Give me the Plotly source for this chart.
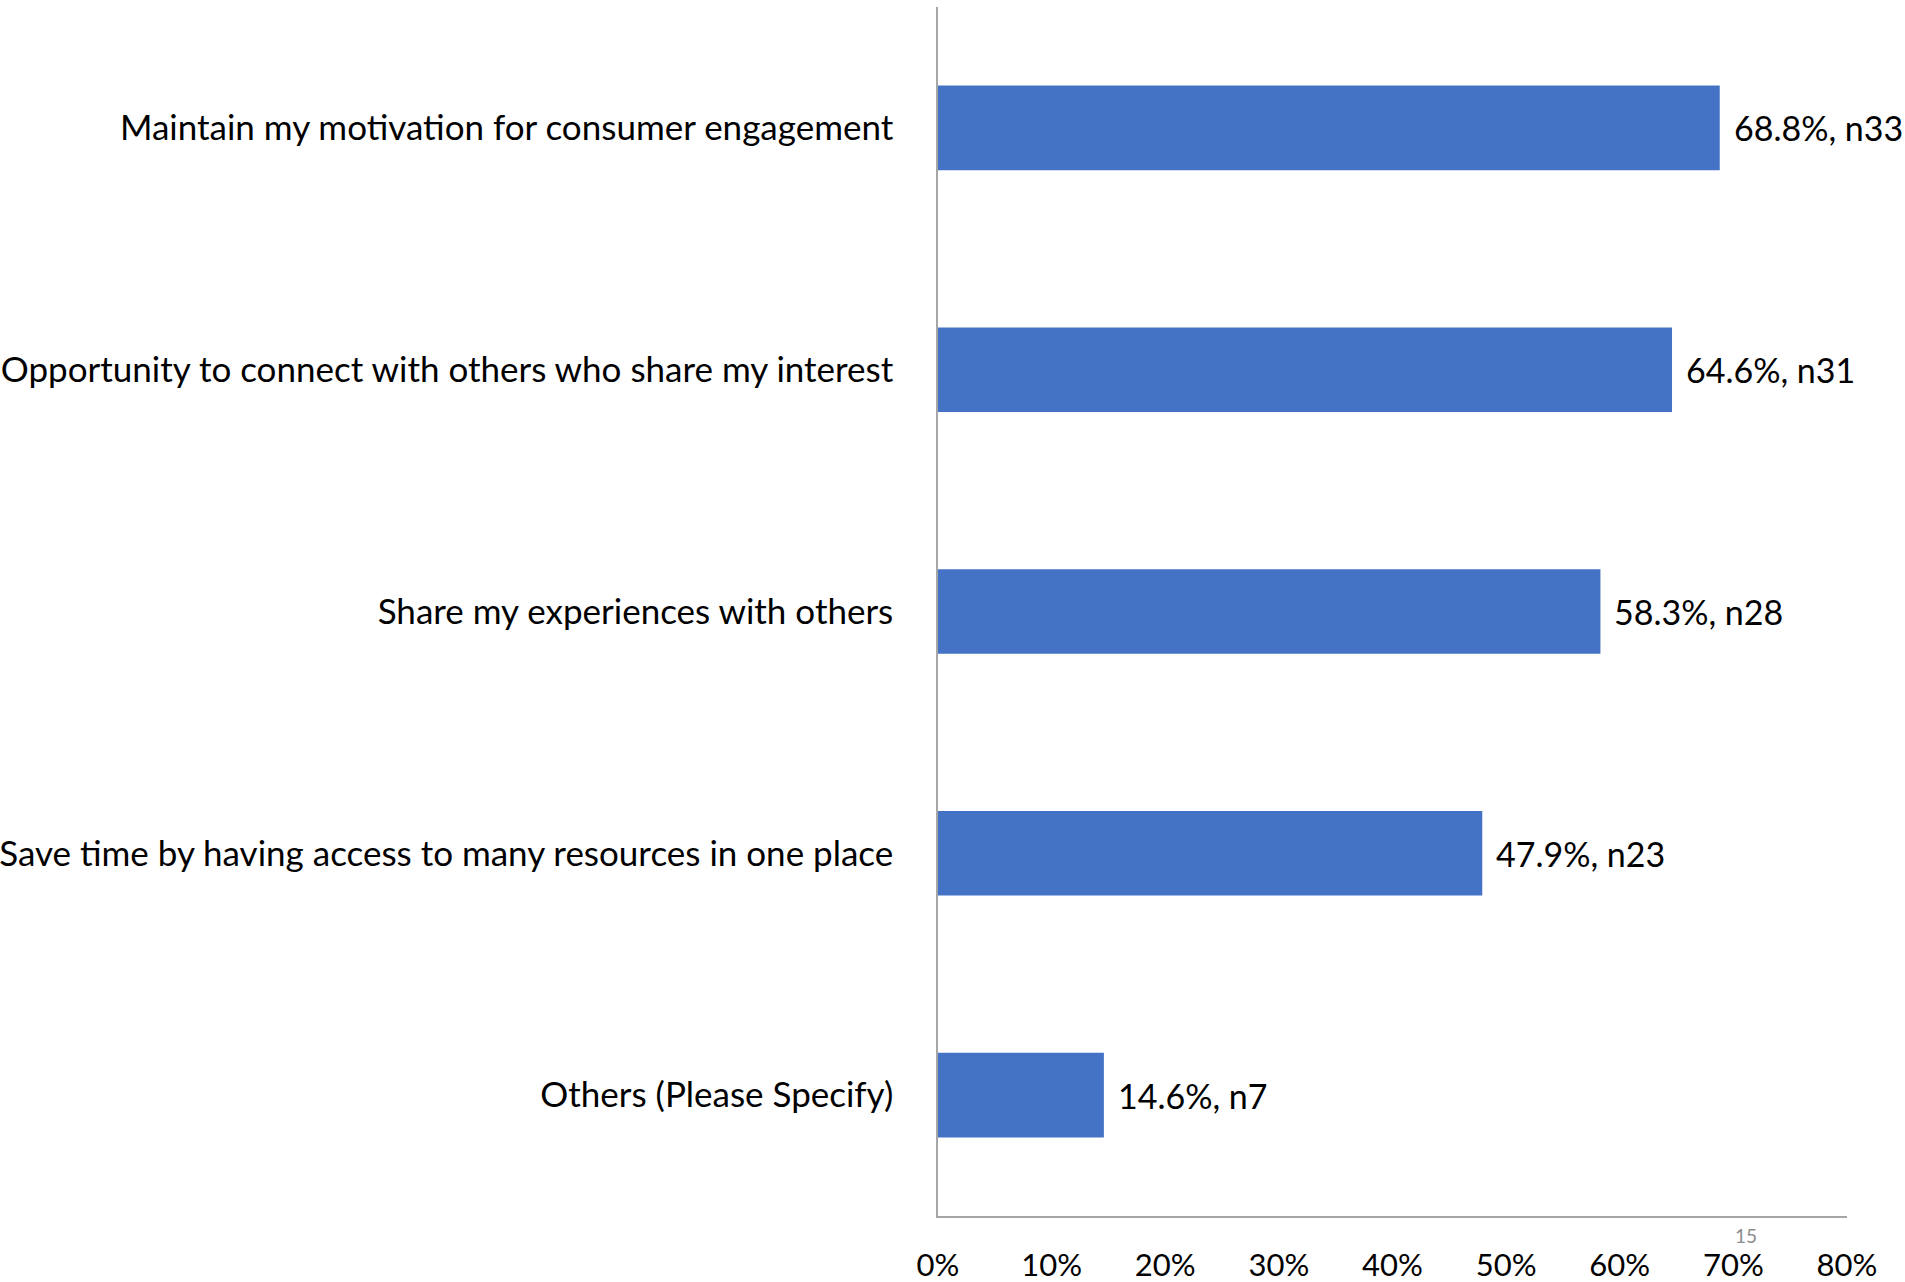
import plotly.graph_objects as go

categories = [
    "Maintain my motivation for consumer engagement",
    "Opportunity to connect with others who share my interest",
    "Share my experiences with others",
    "Save time by having access to many resources in one place",
    "Others (Please Specify)",
]
percent_values = [68.8, 64.6, 58.3, 47.9, 14.6]
counts = [33, 31, 28, 23, 7]
tick_values = [0, 10, 20, 30, 40, 50, 60, 70, 80]
tick_labels = ["0%", "10%", "20%", "30%", "40%", "50%", "60%", "70%", "80%"]

FONT = "Lato, Calibri, Carlito, sans-serif"
BAR_COLOR = "#4472C4"
AXIS_COLOR = "#A6A6A6"

fig = go.Figure()
fig.add_trace(go.Bar(
    x=percent_values,
    y=categories,
    orientation="h",
    marker=dict(color=BAR_COLOR, line=dict(width=0)),
    hoverinfo="x+y",
    showlegend=False,
))

for v, c, n in zip(percent_values, categories, counts):
    fig.add_annotation(
        x=v, y=c, xref="x", yref="y",
        text=f"{v:.1f}%, n{n}",
        showarrow=False, xanchor="left", yanchor="middle",
        xshift=12,
        font=dict(family=FONT, size=34, color="#000000"),
    )

fig.add_annotation(
    x=0.889, y=-0.016, xref="paper", yref="paper",
    text="15", showarrow=False, xanchor="center", yanchor="middle",
    font=dict(family=FONT, size=19, color="#8C8C8C"),
)

fig.update_layout(
    width=1905, height=1282,
    margin=dict(l=938, r=58, t=7, b=66),
    paper_bgcolor="white", plot_bgcolor="white",
    bargap=0.65,
    font=dict(family=FONT, size=34, color="#000000"),
    xaxis=dict(
        range=[0, 80], tickvals=tick_values, ticktext=tick_labels,
        showgrid=False, zeroline=False, automargin=False,
        showline=True, linecolor=AXIS_COLOR, linewidth=1.5,
        ticks="outside", ticklen=21, tickcolor="rgba(0,0,0,0)",
        tickfont=dict(family=FONT, size=31, color="#000000"),
    ),
    yaxis=dict(
        autorange="reversed", automargin=False,
        showgrid=False, zeroline=False,
        showline=True, linecolor=AXIS_COLOR, linewidth=1.5,
        ticks="outside", ticklen=36, tickcolor="rgba(0,0,0,0)",
        tickfont=dict(family=FONT, size=35, color="#000000"),
    ),
)

fig.write_html("out.html")
